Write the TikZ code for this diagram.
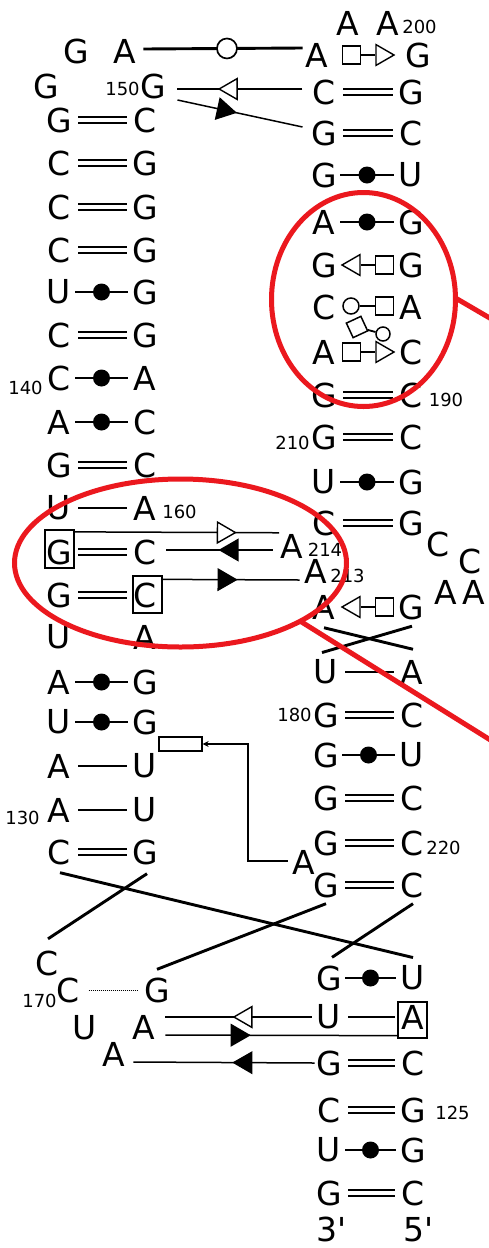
\documentclass[tikz,border=0pt]{standalone}
\usepackage{fontspec}
\newfontfamily\ntfont{DejaVu Sans}
\usetikzlibrary{shapes.geometric,arrows.meta,calc}
\definecolor{hlred}{RGB}{235,24,30}
\newcommand\bpD[2]{\draw[dbl] ([xshift=19pt]#1.center) -- ([xshift=-18pt]#2.center);}
\newcommand\bpS[2]{\draw[sgl] ([xshift=19pt]#1.center) -- ([xshift=-18pt]#2.center);}
\newcommand\bpW[3]{\draw[sgl] ([xshift=16pt]#1.center) -- node[dot] (#3) {} ([xshift=-17pt]#2.center);}
\begin{document}
\begin{tikzpicture}[x=1pt,y=-1pt,
 nt/.style={font={\ntfont\fontsize{33}{33}\selectfont}, inner sep=0pt},
 num/.style={font={\ntfont\fontsize{18}{18}\selectfont}, inner sep=0pt},
 dbl/.style={draw, line width=2pt, double=white, double distance=3.4pt},
 sgl/.style={draw, line width=1.8pt},
 conn/.style={draw, line width=1.5pt},
 thk/.style={draw, line width=2.9pt},
 dot/.style={circle, fill=black, inner sep=0pt, minimum size=17pt},
 ocirc/.style={circle, draw, fill=white, inner sep=0pt, line width=1.5pt},
 sq/.style={rectangle, draw, fill=white, inner sep=0pt, minimum size=18pt, line width=1.5pt},
 tribase/.style={regular polygon, regular polygon sides=3, inner sep=0pt, minimum size=24pt, draw, line width=1.4pt},
 triR/.style={tribase, shape border rotate=-90, fill=white},
 triL/.style={tribase, shape border rotate=90, fill=white},
 ptri/.style={tribase, shape border rotate=-90, sloped, allow upside down},
 lbox/.style={rectangle, draw, line width=1.3pt, inner sep=0pt, minimum width=29pt, minimum height=37pt},
 hl/.style={draw=hlred, line width=5pt}
]
\useasboundingbox (0,0) rectangle (489,1248);
\fill[white] (0,0) rectangle (489,1248);

% ---------- left helix ----------
\node[nt] (L0a) at (76,51.5) {G};
\node[nt] (L0b) at (125,51.5) {A};
\node[nt] (L1a) at (46,86) {G};
\node[nt] (Lb1) at (153,86) {G};
\node[num] (n150) at (122.5,88.5) {150};
\foreach \i/\ya/\ca/\cb in {2/120/G/C,3/163/C/G,4/207/C/G,5/250/C/G,6/292/U/G,7/335/C/G,
  8/378/C/A,9/422/A/C,10/465/G/C,11/508/U/A,12/552/G/C,13/595/G/C,14/637/U/A,15/682/A/G,
  16/722/U/G,17/766/A/U,18/810/A/U,19/852/C/G}{
  \node[nt] (La\i) at (59,\ya) {\ca};
  \node[nt] (Lb\i) at (145,\ya) {\cb};
}
\node[num] (n140) at (25.5,387.5) {140};
\node[num] (n160) at (179.5,511.5) {160};
\node[num] (n130) at (22.5,817.5) {130};
\node[lbox, minimum height=38pt] (bxG) at (59.5,549) {};
\node[lbox] (bxC) at (147.5,594.5) {};

\bpD{La2}{Lb2} \bpD{La3}{Lb3} \bpD{La4}{Lb4} \bpD{La5}{Lb5}
\bpW{La6}{Lb6}{d6} \bpD{La7}{Lb7} \bpW{La8}{Lb8}{d8} \bpW{La9}{Lb9}{d9}
\bpD{La10}{Lb10} \bpS{La11}{Lb11} \bpD{La12}{Lb12} \bpD{La13}{Lb13}
\bpW{La15}{Lb15}{d15} \bpW{La16}{Lb16}{d16} \bpS{La17}{Lb17} \bpS{La18}{Lb18}
\bpD{La19}{Lb19}

% ---------- right helix ----------
\node[nt] (Rt1) at (347.5,23) {A};
\node[nt] (Rt2) at (387.5,23) {A};
\node[num] (n200) at (419.5,27) {200};
\node[nt] (Ra1) at (317,55) {A};
\node[nt] (Rb1) at (418,55) {G};
\foreach \i/\ya/\ca/\cb in {2/92/C/G,3/133/G/C,4/175/G/U,5/222/A/G,6/265/G/G,7/307/C/A,
  8/352/A/C,9/395/G/C,10/437/G/C,11/482/U/G,12/523/C/G,13/607/A/G}{
  \node[nt] (Ra\i) at (324,\ya) {\ca};
  \node[nt] (Rb\i) at (411,\ya) {\cb};
}
\foreach \i/\ya/\ca/\cb in {14/672/U/A,15/715/G/C,16/755/G/U,17/798/G/C,18/843/G/C,19/885/G/C}{
  \node[nt] (Ra\i) at (326,\ya) {\ca};
  \node[nt] (Rb\i) at (412,\ya) {\cb};
}
\foreach \i/\ya/\ca/\cb in {20/978/G/U,21/1017/U/A,22/1063/G/C,23/1110/C/G,24/1150/U/G,25/1193/G/C}{
  \node[nt] (Ra\i) at (329,\ya) {\ca};
  \node[nt] (Rb\i) at (413,\ya) {\cb};
}
\node[nt] (p3) at (331.5,1229.5) {3\textquotesingle};
\node[nt] (p5) at (419,1229.5) {5\textquotesingle};
\node[lbox, minimum height=36pt] (bxA) at (412.5,1020) {};

\node[num] (n190) at (446,400) {190};
\node[num] (n210) at (292.5,442.5) {210};
\node[num] (n180) at (294.5,714.5) {180};
\node[num] (n220) at (443.5,847.5) {220};
\node[num] (n125) at (452.5,1112.5) {125};

\node[nt] (Cx1) at (438.5,544) {C};
\node[nt] (Cx2) at (470,561.5) {C};
\node[nt] (Ax1) at (446,592.5) {A};
\node[nt] (Ax2) at (473.5,592.5) {A};

\bpD{Ra2}{Rb2} \bpD{Ra3}{Rb3} \bpW{Ra4}{Rb4}{e4} \bpW{Ra5}{Rb5}{e5}
\bpD{Ra9}{Rb9} \bpD{Ra10}{Rb10} \bpW{Ra11}{Rb11}{e11} \bpD{Ra12}{Rb12}
\bpS{Ra14}{Rb14} \bpD{Ra15}{Rb15} \bpW{Ra16}{Rb16}{e16} \bpD{Ra17}{Rb17}
\bpD{Ra18}{Rb18} \bpD{Ra19}{Rb19} \bpW{Ra20}{Rb20}{e20} \bpS{Ra21}{Rb21}
\bpD{Ra22}{Rb22} \bpD{Ra23}{Rb23} \bpW{Ra24}{Rb24}{e24} \bpD{Ra25}{Rb25}

% non-canonical symbols
\node[sq] (s1) at (351.5,55) {};
\node[triR] (t1) at (382,55) {};
\draw[sgl] (s1) -- (t1);
\node[triL] (t6) at (354,265) {};
\node[sq] (s6) at (384.5,265) {};
\draw[sgl] (t6) -- (s6);
\node[ocirc, minimum size=16pt] (c7) at (351,306) {};
\node[sq] (s7) at (384.5,306) {};
\draw[sgl] (c7) -- (s7);
\node[sq, minimum size=16pt, rotate=25] (rs) at (357,327) {};
\node[ocirc, minimum size=14pt] (rc) at (383,334) {};
\draw[sgl] (rs) -- (rc);
\node[sq] (s8) at (351.5,352) {};
\node[triR] (t8) at (382,352) {};
\draw[sgl] (s8) -- (t8);
\node[triL] (t13) at (354,607) {};
\node[sq] (s13) at (384.5,607) {};
\draw[sgl] (t13) -- (s13);

% ---------- tertiary connectors ----------
\draw[thk] ([shift={(7pt,2.5pt)}]L0b.east) -- node[ocirc, minimum size=20pt, line width=1.7pt, pos=0.525] (oc) {} ([shift={(-3pt,7pt)}]Ra1.west);
\draw[conn] ([shift={(-10pt,3pt)}]Ra2.west) -- node[ptri, fill=white, pos=0.57] (t150) {} ([shift={(11.5pt,-3pt)}]Lb1.east);
\draw[conn] ([shift={(11.5pt,-14pt)}]Lb1.east) -- node[ptri, fill=black, pos=0.37] (tdg) {} ([shift={(-8.5pt,6pt)}]Ra3.west);

\node[nt] (Lx214) at (291.5,546) {A};
\node[num] (n214) at (325,549.5) {214};
\node[nt] (Lx213) at (316,571.5) {A};
\node[num] (n213) at (347.5,575.5) {213};
\draw[conn] ([yshift=-2.5pt]bxG.north east) -- node[ptri, fill=white, pos=0.728] (ta) {} ([shift={(-1pt,1pt)}]Lx214.north west);
\draw[conn] ([shift={(-7.5pt,-4pt)}]Lx214.west) -- node[ptri, fill=black, pos=0.38] (tb) {} ([shift={(9pt,2pt)}]Lb12.east);
\draw[conn] ([yshift=-4pt]bxC.north east) -- node[ptri, fill=black, pos=0.45] (tc) {} ([shift={(-5pt,-8.5pt)}]Lx213.west);

% crossing in right helix
\draw[thk] ([yshift=-8.5pt]Ra13.south) -- ([shift={(1pt,10.5pt)}]Rb14.north);
\draw[thk] ([shift={(1pt,-6.5pt)}]Rb13.south) -- ([shift={(-4pt,7pt)}]Ra14.north);

% rectangle pointer
\node[nt] (Aside) at (304,862.5) {A};
\node[draw, line width=1.3pt, inner sep=0pt, minimum width=43pt, minimum height=14pt] (rct) at (180.5,744) {};
\coordinate (bend) at (248,744);
\draw[conn, line width=1.3pt, -{Stealth[length=6pt,width=6pt]}] ([shift={(-5pt,1.5pt)}]Aside.west) -| (bend) -- (rct.east);

% lower loop
\node[nt] (Cl1) at (47,963) {C};
\node[nt] (Cl2) at (68,990) {C};
\node[num] (n170) at (39.5,1000.5) {170};
\node[nt] (Gl) at (157,990) {G};
\node[nt] (Ul) at (85,1028) {U};
\node[nt] (Ab1) at (144,1027) {A};
\node[nt] (Ab2) at (114,1054) {A};
\draw[line width=1pt, dash pattern=on 1pt off 1pt, shorten <=9pt, shorten >=7pt] (Cl2) -- (Gl);

\draw[thk] ([shift={(1pt,-8pt)}]La19.south) -- ([shift={(0pt,8pt)}]Rb20.north);
\draw[thk] ([shift={(2pt,-9pt)}]Lb19.south) -- ([shift={(1pt,11.5pt)}]Cl1.north);
\draw[thk] ([yshift=-6pt]Ra19.south) -- ([yshift=8pt]Gl.north);
\draw[thk] ([shift={(1pt,-6pt)}]Rb19.south) -- ([shift={(3pt,8pt)}]Ra20.north);

\draw[conn] ([xshift=-5pt]Ra21.west) -- node[ptri, fill=white, pos=0.45] (tB1) {} ([shift={(10pt,10pt)}]Ab1.east);
\draw[conn] ([shift={(10pt,-8pt)}]Ab1.east) -- node[ptri, fill=black, pos=0.31] (tB2) {} ([yshift=3pt]bxA.south west);
\draw[conn] ([xshift=-1.5pt]Ra22.west) -- node[ptri, fill=black, pos=0.38] (tB3) {} ([shift={(8pt,-8pt)}]Ab2.east);

% ---------- red highlights ----------
\draw[hl] (363.5,299.5) ellipse [x radius=92pt, y radius=107pt];
\draw[hl] (455.5,298) -- (500,324);
\draw[hl] (180.5,563) ellipse [x radius=166pt, y radius=84pt];
\draw[hl] (300,621) -- (500,746);
\end{tikzpicture}
\end{document}
